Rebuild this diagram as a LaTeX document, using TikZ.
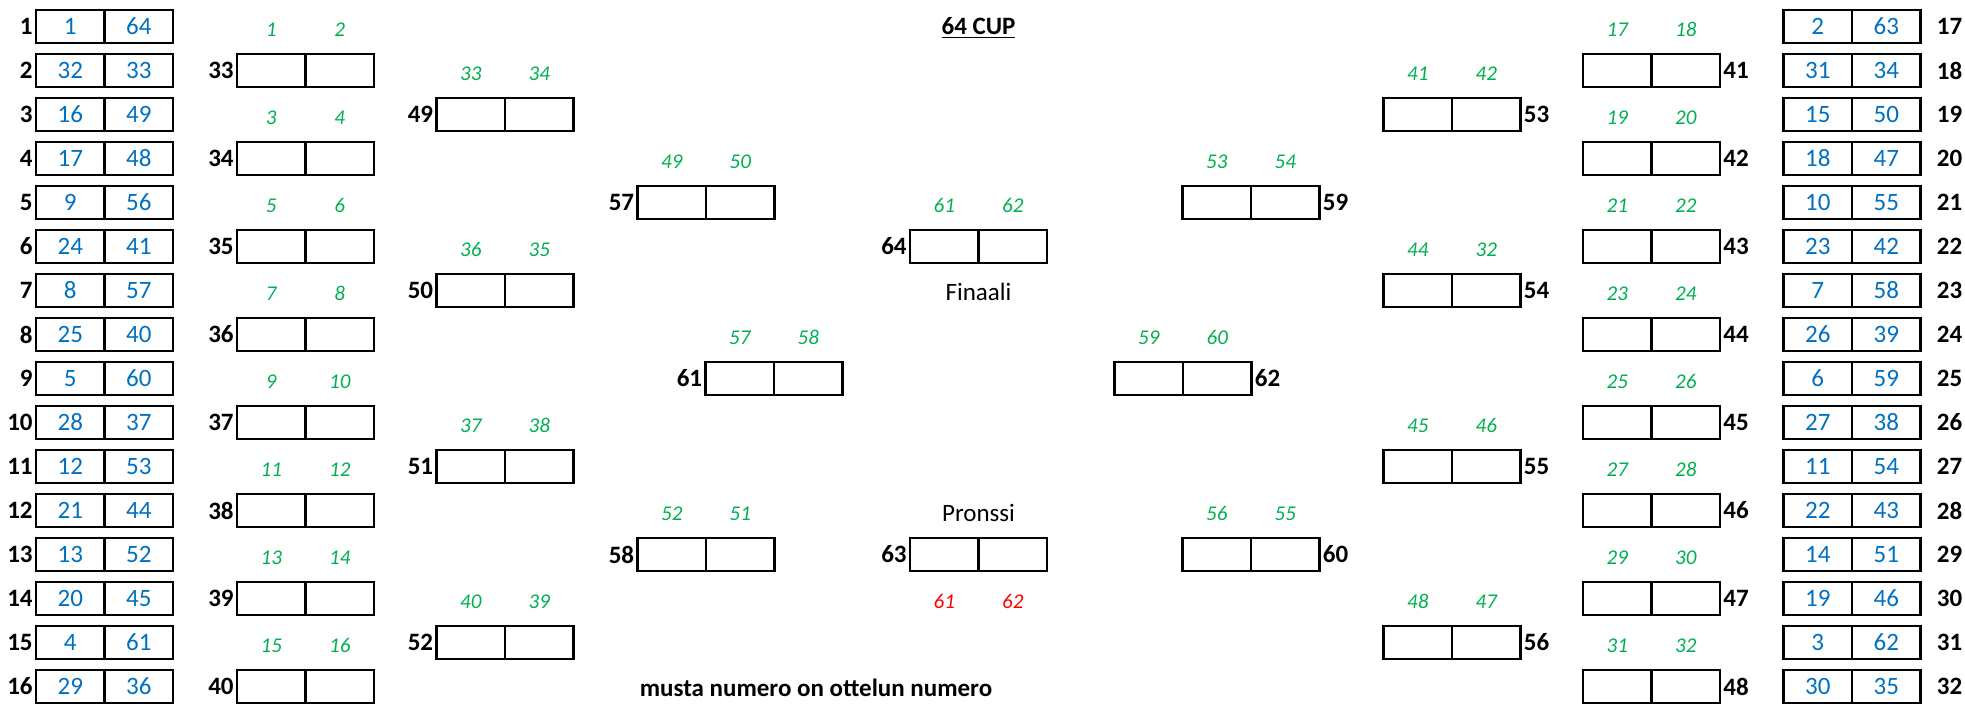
\documentclass[tikz,border=0pt]{standalone}
\usepackage{fontspec}
\setmainfont{Carlito}
\definecolor{numsin}{HTML}{0070C0}
\definecolor{numvih}{HTML}{00B050}
\definecolor{numpun}{HTML}{FF0000}
\newcommand{\ottelu}[5]{%
  \node[solu] (m#1a) at ({#2+34.25},{26.5+44*(#3-1)}) {#4};
  \node[solu] (m#1b) at ({#2+102.75},{26.5+44*(#3-1)}) {#5};}
\newcommand{\vnro}[1]{\node[nro,anchor=east] (n#1) at (m#1a.west) {#1};}
\newcommand{\onro}[1]{\node[nro,anchor=west] (n#1) at (m#1b.east) {#1};}
\newcommand{\ylla}[3]{%
  \node[vih] (y#1a) at ([yshift=20.5pt]m#1a) {#2};
  \node[vih] (y#1b) at ([yshift=20.5pt]m#1b) {#3};}
\tikzset{
  solu/.style={draw, line width=1.2pt, minimum width=34.25pt, minimum height=16.5pt,
    inner sep=0pt, outer sep=0pt, text=numsin, font=\fontsize{12.5}{15}\selectfont},
  nro/.style={inner sep=1.5pt, font=\fontsize{12.5}{15}\selectfont\bfseries},
  vih/.style={inner sep=0pt, text=numvih, font=\fontsize{10.5}{12}\selectfont\itshape},
  teksti/.style={inner sep=0pt, font=\fontsize{12.5}{15}\selectfont}
}
\begin{document}
\begin{tikzpicture}[x=0.5pt,y=-0.5pt]
\useasboundingbox (0,0) rectangle (1965,703);
\foreach \m/\a/\b in {1/1/64,2/32/33,3/16/49,4/17/48,5/9/56,6/24/41,7/8/57,8/25/40,
  9/5/60,10/28/37,11/12/53,12/21/44,13/13/52,14/20/45,15/4/61,16/29/36}
  {\ottelu{\m}{36}{\m}{\a}{\b} \vnro{\m}}
\foreach \m/\a/\b in {17/2/63,18/31/34,19/15/50,20/18/47,21/10/55,22/23/42,23/7/58,24/26/39,
  25/6/59,26/27/38,27/11/54,28/22/43,29/14/51,30/19/46,31/3/62,32/30/35}
  {\ottelu{\m}{1783.5}{\m-16}{\a}{\b}
   \node[nro,anchor=west,xshift=6.5pt] (n\m) at (m\m b.east) {\m};}
\foreach \m/\a/\b in {33/1/2,34/3/4,35/5/6,36/7/8,37/9/10,38/11/12,39/13/14,40/15/16}
  {\ottelu{\m}{237}{2*(\m-32)}{}{} \vnro{\m} \ylla{\m}{\a}{\b}}
\foreach \m/\a/\b in {41/17/18,42/19/20,43/21/22,44/23/24,45/25/26,46/27/28,47/29/30,48/31/32}
  {\ottelu{\m}{1583}{2*(\m-40)}{}{} \onro{\m} \ylla{\m}{\a}{\b}}
\foreach \m/\a/\b in {49/33/34,50/36/35,51/37/38,52/40/39}
  {\ottelu{\m}{436.5}{4*(\m-49)+3}{}{} \vnro{\m} \ylla{\m}{\a}{\b}}
\foreach \m/\a/\b in {53/41/42,54/44/32,55/45/46,56/48/47}
  {\ottelu{\m}{1383.5}{4*(\m-53)+3}{}{} \onro{\m} \ylla{\m}{\a}{\b}}
\ottelu{57}{637.5}{5}{}{} \vnro{57} \ylla{57}{49}{50}
\ottelu{58}{637.5}{13}{}{} \vnro{58} \ylla{58}{52}{51}
\ottelu{59}{1182.5}{5}{}{} \onro{59} \ylla{59}{53}{54}
\ottelu{60}{1182.5}{13}{}{} \onro{60} \ylla{60}{56}{55}
\ottelu{61}{705.5}{9}{}{} \vnro{61} \ylla{61}{57}{58}
\ottelu{62}{1114.5}{9}{}{} \onro{62} \ylla{62}{59}{60}
\ottelu{64}{910}{6}{}{} \vnro{64} \ylla{64}{61}{62}
\ottelu{63}{910}{13}{}{} \vnro{63}
\node[vih,text=numpun] (p63a) at ([yshift=-23.5pt]m63a) {61};
\node[vih,text=numpun] (p63b) at ([yshift=-23.5pt]m63b) {62};
\node[teksti] (finaali) at ([yshift=-22.5pt]m64a.east) {Finaali};
\node[teksti] (pronssi) at ([yshift=21pt]m63a.east) {Pronssi};
\node[teksti,font=\fontsize{12.5}{15}\selectfont\bfseries] (otsikko) at (978.5,28) {\underline{64 CUP}};
\node[teksti,font=\fontsize{12.5}{15}\selectfont\bfseries] (selite) at (816,688) {musta numero on ottelun numero};
\end{tikzpicture}
\end{document}
